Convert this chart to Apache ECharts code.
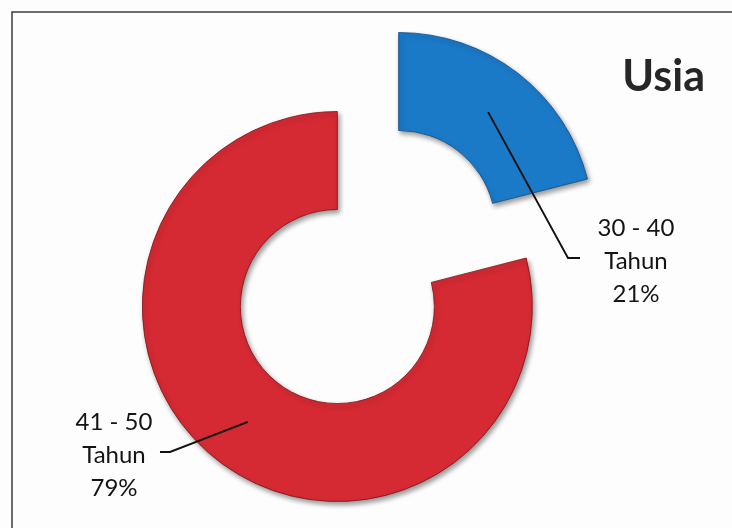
<!DOCTYPE html>
<html>
<head>
<meta charset="utf-8">
<script src="https://cdn.jsdelivr.net/npm/echarts@6/dist/echarts.min.js"></script>
<style>
html,body{margin:0;padding:0;background:#fdfdfd;}
#c{width:732px;height:528px;}
</style>
</head>
<body>
<div id="c"></div>
<script>
// ---- data ----
const categories = ['30 - 40', '41 - 50'];
const unitLabel = 'Tahun';
const values = [21, 79];
const sliceColors = ['#1b7ac8', '#d52a33'];
const edgeColors = ['#0e4d85', '#7e1219'];
const titleText = 'Usia';

// ---- layout ----
const baseCenter = [368, 267];
const innerR = 97, outerR = 195;
const explode = 50;
const labelSpots = [
  { x: 636, y: 261, elbowDx: -68, endDx: -56 },
  { x: 114, y: 455, elbowDx: 56, endDx: 46 }
];

const total = values.reduce((a, b) => a + b, 0);
function midAngle(i) {
  let acc = 0;
  for (let k = 0; k < i; k++) acc += values[k];
  return (acc + values[i] / 2) / total * 2 * Math.PI; // clockwise from top
}

const font = 'Lato, "Open Sans", sans-serif';
const graphics = [{
  type: 'rect', silent: true,
  shape: { x: 12, y: 12, width: 760, height: 560 },
  style: { fill: 'none', stroke: '#3c3c3c', lineWidth: 1.5 }
}];

values.forEach((v, i) => {
  const s = labelSpots[i];
  const a = midAngle(i);
  const dx = Math.sin(a), dy = -Math.cos(a);
  const cx = baseCenter[0] + explode * dx, cy = baseCenter[1] + explode * dy;
  const midR = (innerR + outerR) / 2;
  const start = [cx + midR * dx, cy + midR * dy];
  const ly = s.y - 3;
  const pct = Math.round(v / total * 100);
  graphics.push({
    type: 'polyline', silent: true, z: 10,
    shape: { points: [start, [s.x + s.elbowDx, ly], [s.x + s.endDx, ly]] },
    style: { stroke: '#111', lineWidth: 1.9, fill: 'none' }
  });
  graphics.push({
    type: 'text', silent: true, z: 10,
    x: s.x, y: s.y,
    style: {
      text: categories[i] + '\n' + unitLabel + '\n' + pct + '%',
      font: '24px ' + font,
      lineHeight: 33,
      fill: '#141414',
      align: 'center',
      verticalAlign: 'middle'
    }
  });
});

const chart = echarts.init(document.getElementById('c'), null, { renderer: 'canvas' });

chart.setOption({
  backgroundColor: '#fdfdfd',
  animation: false,
  title: {
    text: titleText,
    right: 22, top: 51,
    textStyle: { fontFamily: font, fontSize: 43, fontWeight: 'bold', color: '#262626' }
  },
  graphic: graphics,
  series: [{
    type: 'pie',
    center: baseCenter,
    radius: [innerR, outerR],
    startAngle: 90,
    clockwise: true,
    selectedMode: 'multiple',
    selectedOffset: explode,
    label: { show: false },
    labelLine: { show: false },
    itemStyle: {
      borderWidth: 0.8,
      shadowColor: 'rgba(0,0,0,0.4)',
      shadowBlur: 5,
      shadowOffsetX: 2,
      shadowOffsetY: 3
    },
    data: values.map((v, i) => ({
      name: categories[i],
      value: v,
      selected: true,
      itemStyle: { color: sliceColors[i], borderColor: edgeColors[i] },
      select: { itemStyle: { color: sliceColors[i], borderColor: edgeColors[i] } }
    }))
  }]
});
</script>
</body>
</html>
